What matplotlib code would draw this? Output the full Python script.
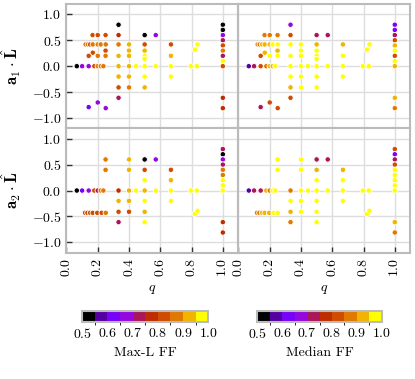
import numpy as np
import matplotlib
matplotlib.use("Agg")
import matplotlib.pyplot as plt
from matplotlib.colors import ListedColormap, BoundaryNorm
from matplotlib.cm import ScalarMappable

plt.rcParams["font.family"] = "serif"
plt.rcParams["font.serif"] = ["cmr10"]
plt.rcParams["mathtext.fontset"] = "cm"
plt.rcParams["axes.formatter.use_mathtext"] = True
plt.rcParams["font.size"] = 10

# top row: a1 . L
q_top = [0.333, 0.167, 0.2, 0.25, 0.333, 0.5, 0.571,
         0.123, 0.136, 0.151, 0.168, 0.2, 0.219, 0.251, 0.333, 0.4, 0.5, 0.668, 0.838,
         0.821, 0.25, 0.4, 0.5, 0.168,
         0.142, 0.2, 0.25, 0.333, 0.4, 0.5, 0.668, 0.5,
         0.066, 0.1, 0.142, 0.178, 0.2, 0.219, 0.236, 0.333, 0.4, 0.444, 0.5, 0.571,
         0.668, 0.796, 0.834,
         0.333, 0.4, 0.5, 0.668,
         0.333, 0.4, 0.5,
         0.333, 0.2, 0.142, 0.251,
         1.0, 1.0, 1.0, 1.0, 1.0, 1.0, 1.0, 1.0, 1.0, 1.0, 1.0]
y_top = [0.8, 0.6, 0.6, 0.6, 0.6, 0.6, 0.6,
         0.42, 0.42, 0.42, 0.42, 0.42, 0.42, 0.42, 0.42, 0.42, 0.42, 0.42, 0.42,
         0.32, 0.3, 0.3, 0.3, 0.26,
         0.2, 0.2, 0.2, 0.2, 0.2, 0.2, 0.2, 0.14,
         0.0, 0.0, 0.0, 0.0, 0.0, 0.0, 0.0, 0.0, 0.0, 0.0, 0.0, 0.0,
         0.0, 0.0, 0.0,
         -0.2, -0.2, -0.2, -0.2,
         -0.41, -0.41, -0.41,
         -0.61, -0.7, -0.79, -0.81,
         0.8, 0.7, 0.6, 0.5, 0.4, 0.3, 0.2, 0.1, 0.0, -0.61, -0.81]
ffmax_top = [0.52, 0.82, 0.82, 0.82, 0.77, 0.52, 0.67,
             0.82, 0.87, 0.82, 0.87, 0.87, 0.87, 0.87, 0.87, 0.92, 0.82, 0.82, 0.97,
             0.97, 0.82, 0.92, 0.92, 0.82,
             0.82, 0.87, 0.87, 0.92, 0.92, 0.97, 0.92, 0.97,
             0.52, 0.67, 0.67, 0.82, 0.87, 0.87, 0.87, 0.92, 0.92, 0.97, 0.97, 0.97,
             0.97, 0.97, 0.97,
             0.92, 0.92, 0.97, 0.97,
             0.82, 0.87, 0.92,
             0.72, 0.67, 0.62, 0.67,
             0.52, 0.52, 0.67, 0.72, 0.82, 0.87, 0.72, 0.97, 0.82, 0.77, 0.77]
ffmed_top = [0.67, 0.87, 0.87, 0.87, 0.82, 0.72, 0.72,
             0.87, 0.87, 0.92, 0.92, 0.92, 0.97, 0.97, 0.97, 0.97, 0.92, 0.92, 0.97,
             0.97, 0.92, 0.97, 0.97, 0.92,
             0.82, 0.97, 0.97, 0.97, 0.97, 0.97, 0.97, 0.97,
             0.57, 0.72, 0.82, 0.87, 0.92, 0.92, 0.97, 0.97, 0.97, 0.97, 0.97, 0.97,
             0.97, 0.97, 0.97,
             0.97, 0.97, 0.97, 0.97,
             0.92, 0.97, 0.97,
             0.82, 0.82, 0.72, 0.82,
             0.62, 0.62, 0.72, 0.82, 0.92, 0.97, 0.82, 0.97, 0.92, 0.92, 0.87]

# bottom row: a2 . L
q_bot = [0.25, 0.4, 0.5, 0.571,
         0.25, 0.4, 0.5, 0.668,
         0.5, 0.668,
         0.066, 0.1, 0.142, 0.178, 0.2, 0.219, 0.236, 0.333, 0.4, 0.444, 0.5, 0.571,
         0.668, 0.796, 0.834,
         0.333, 0.4, 0.5, 0.668,
         0.119, 0.134, 0.151, 0.168, 0.197, 0.225, 0.251, 0.333, 0.4, 0.5,
         0.333, 0.5, 0.821, 0.838,
         1.0, 1.0, 1.0, 1.0, 1.0, 1.0, 1.0, 1.0, 1.0, 1.0, 1.0]
y_bot = [0.6, 0.6, 0.6, 0.6,
         0.4, 0.4, 0.4, 0.4,
         0.2, 0.2,
         0.0, 0.0, 0.0, 0.0, 0.0, 0.0, 0.0, 0.0, 0.0, 0.0, 0.0, 0.0,
         0.0, 0.0, 0.0,
         -0.2, -0.2, -0.2, -0.2,
         -0.43, -0.43, -0.43, -0.43, -0.43, -0.43, -0.43, -0.41, -0.41, -0.41,
         -0.61, -0.61, -0.45, -0.39,
         0.8, 0.7, 0.6, 0.5, 0.4, 0.3, 0.2, 0.1, 0.0, -0.61, -0.81]
ffmax_bot = [0.87, 0.92, 0.52, 0.67,
             0.87, 0.92, 0.82, 0.82,
             0.97, 0.92,
             0.52, 0.62, 0.67, 0.82, 0.72, 0.87, 0.87, 0.77, 0.92, 0.97, 0.92, 0.97,
             0.97, 0.97, 0.97,
             0.92, 0.92, 0.97, 0.97,
             0.82, 0.82, 0.82, 0.82, 0.82, 0.82, 0.87, 0.82, 0.82, 0.92,
             0.72, 0.97, 0.97, 0.97,
             0.72, 0.52, 0.67, 0.72, 0.87, 0.87, 0.97, 0.97, 0.97, 0.77, 0.77]
ffmed_bot = [0.97, 0.97, 0.72, 0.72,
             0.97, 0.97, 0.92, 0.92,
             0.97, 0.97,
             0.57, 0.72, 0.72, 0.92, 0.87, 0.97, 0.97, 0.87, 0.97, 0.97, 0.97, 0.97,
             0.97, 0.97, 0.97,
             0.97, 0.97, 0.97, 0.97,
             0.87, 0.87, 0.92, 0.92, 0.92, 0.97, 0.97, 0.92, 0.97, 0.97,
             0.87, 0.97, 0.97, 0.97,
             0.82, 0.62, 0.72, 0.82, 0.97, 0.97, 0.97, 0.97, 0.97, 0.92, 0.87]

bounds = np.linspace(0.5, 1.0, 11)
cmap = ListedColormap(plt.cm.gnuplot(np.linspace(0, 1, 10)))
norm = BoundaryNorm(bounds, cmap.N)

fig, axes = plt.subplots(2, 2, figsize=(4.15, 3.79), dpi=100, sharex=True, sharey=True)
fig.subplots_adjust(left=0.1602, right=0.989, top=0.9894, bottom=0.3332,
                    wspace=0, hspace=0)

panels = [(q_top, y_top, ffmax_top, ffmed_top), (q_bot, y_bot, ffmax_bot, ffmed_bot)]
for r, (q, y, fmax, fmed) in enumerate(panels):
    for c, ff in enumerate([fmax, fmed]):
        ax = axes[r, c]
        ax.scatter(q, y, c=ff, cmap=cmap, norm=norm, s=15,
                   edgecolors="white", linewidths=0.6, zorder=3)
        ax.set_xlim(0, 1.1)
        ax.set_ylim(-1.2, 1.2)
        ax.grid(True, color="#dddddd", lw=1.0, zorder=0)
        for sp in ax.spines.values():
            sp.set_color("#bbbbbb")
            sp.set_linewidth(1.5)
        ax.tick_params(direction="in", length=4, width=1, color="#333333")
        if c == 1:
            ax.tick_params(axis="y", left=False, labelleft=False)
        if r == 0:
            ax.tick_params(axis="x", bottom=False)
        else:
            ax.tick_params(axis="x", labelrotation=90)
            ax.set_xlabel(r"$q$")

axes[0, 0].set_xticks([0.0, 0.2, 0.4, 0.6, 0.8, 1.0])
axes[0, 0].set_yticks([-1.0, -0.5, 0.0, 0.5, 1.0])
axes[0, 0].set_ylabel(r"$\mathbf{a}_1 \cdot \hat{\mathbf{L}}$", fontsize=12)
axes[1, 0].set_ylabel(r"$\mathbf{a}_2 \cdot \hat{\mathbf{L}}$", fontsize=12)
for ax in axes[:, 0]:
    ax.yaxis.set_label_coords(-0.255, 0.5)

cb_pos = [[0.1983, 0.1504, 0.3036, 0.0298], [0.62, 0.1504, 0.2998, 0.0298]]
cb_labels = ["Max-L FF", "Median FF"]
for pos, lab in zip(cb_pos, cb_labels):
    cax = fig.add_axes(pos)
    cb = fig.colorbar(ScalarMappable(norm=norm, cmap=cmap), cax=cax,
                      orientation="horizontal", ticks=[0.5, 0.6, 0.7, 0.8, 0.9, 1.0])
    cb.outline.set_edgecolor("#bbbbbb")
    cb.outline.set_linewidth(1.5)
    cax.tick_params(length=0)
    cb.set_label(lab)

fig.savefig("out.png", dpi=100)
